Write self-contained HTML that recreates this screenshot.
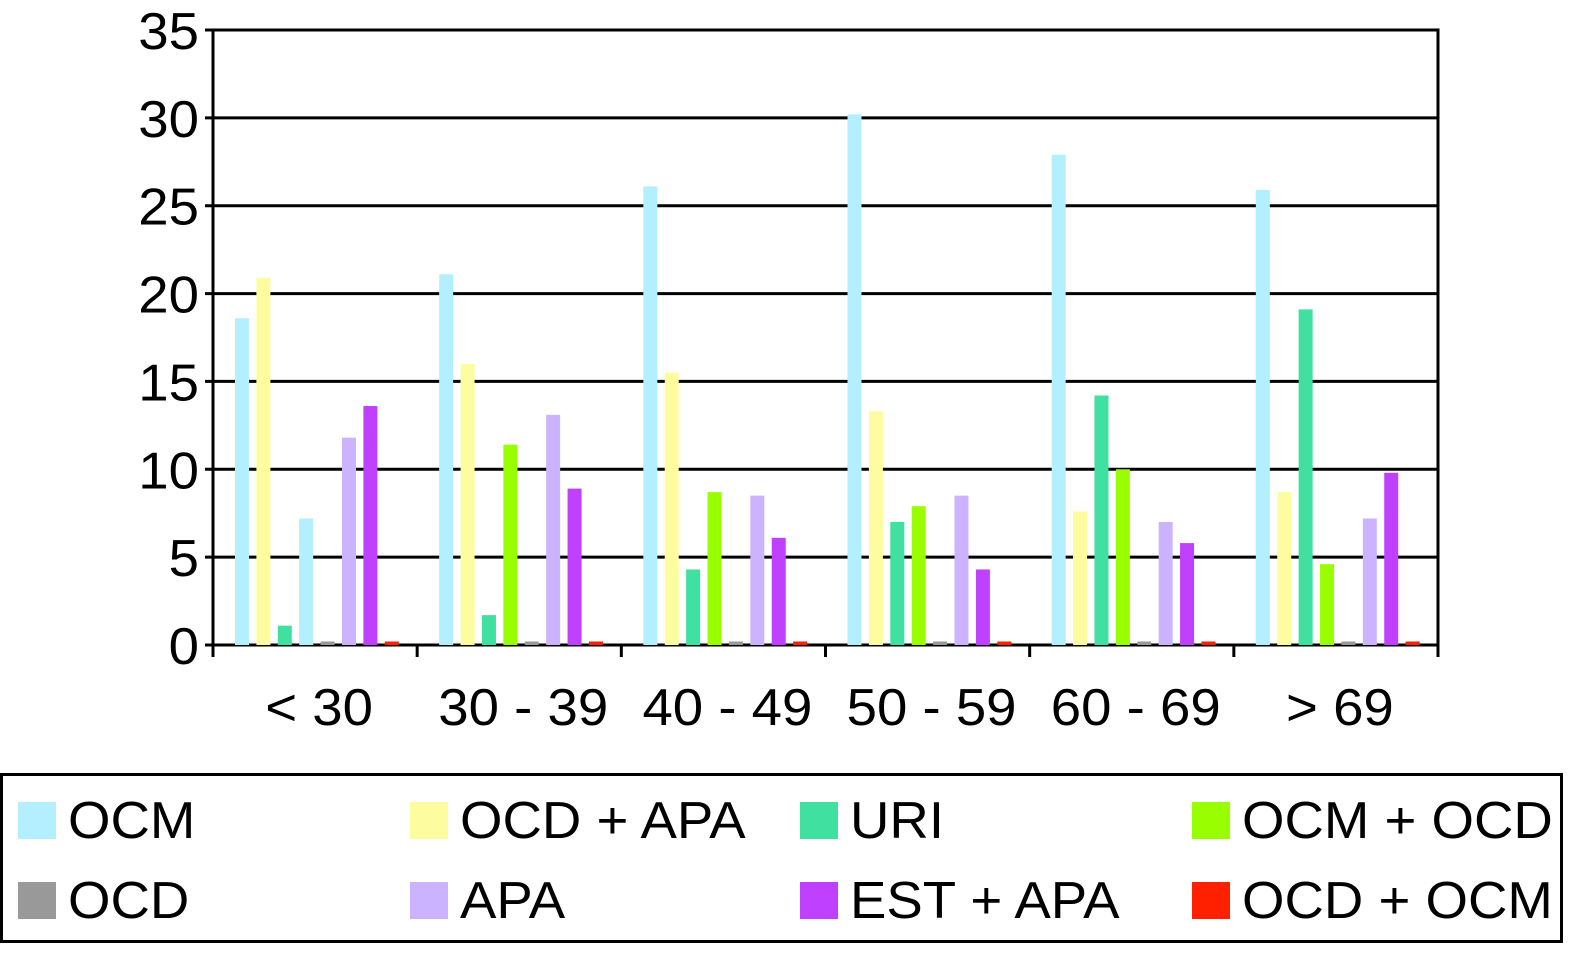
<!DOCTYPE html>
<html><head><meta charset="utf-8"><style>
body{margin:0;background:#fff;width:1590px;height:958px;overflow:hidden;font-family:"Liberation Sans",sans-serif}
svg text{font-family:"Liberation Sans",sans-serif}
</style></head><body>
<svg id="chart" width="1590" height="958"></svg>
<script>
const categories=["< 30","30 - 39","40 - 49","50 - 59","60 - 69","> 69"];
const seriesNames=["OCM","OCD + APA","URI","OCM + OCD","OCD","APA","EST + APA","OCD + OCM"];
const seriesColors=["#b3efff","#fdfda0","#3fe0a0","#99ff00","#999999","#ccb3ff","#c040ff","#ff2000"];
const sOCM=[18.6,21.1,26.1,30.2,27.9,25.9];
const sOCDAPA=[20.9,16.0,15.5,13.3,7.6,8.7];
const sURI=[1.1,1.7,4.3,7.0,14.2,19.1];
const sOCMOCD=[7.2,11.4,8.7,7.9,10.0,4.6];
const sOCD=[0.2,0.2,0.2,0.2,0.2,0.2];
const sAPA=[11.8,13.1,8.5,8.5,7.0,7.2];
const sESTAPA=[13.6,8.9,6.1,4.3,5.8,9.8];
const sOCDOCM=[0.2,0.2,0.2,0.2,0.2,0.2];
const yTicks=[0,5,10,15,20,25,30,35];
const series=[sOCM,sOCDAPA,sURI,sOCMOCD,sOCD,sAPA,sESTAPA,sOCDOCM];
const NS="http://www.w3.org/2000/svg";
const svg=document.getElementById("chart");
const X0=213,X1=1438,Y0=645,Y1=30,YMAX=35;
const gw=(X1-X0)/categories.length;
const y=v=>Y0-(v/YMAX)*(Y0-Y1);
const xb=(g,s)=>X0+g*gw+22+s*21.4;
function mk(t,a,txt){const e=document.createElementNS(NS,t);for(const k in a)e.setAttribute(k,a[k]);if(txt!==undefined)e.textContent=txt;svg.appendChild(e);return e;}
function txt(x,yy,anchor,s){return mk("text",{x:0,y:0,transform:`translate(${x},${yy}) scale(1.05,1)`,"text-anchor":anchor,"font-size":52},s);}
let fr=mk("rect",{x:X0,y:Y1,width:X1-X0,height:Y0-Y1,fill:"none",stroke:"#000","stroke-width":3});


yTicks.forEach(t=>{
 let l=mk("line",{x1:X0-8,x2:X1,y1:y(t),y2:y(t),stroke:"#000","stroke-width":3});
 
 
 let tx=txt(199,y(t)+19,"end",String(t));
 
 
});
series.forEach((arr,s)=>arr.forEach((v,g)=>{
 let col=seriesColors[s];
 if(s===3&&g===0)col=seriesColors[0];
 let r=mk("rect",{x:xb(g,s),y:y(v),width:14,height:Y0-y(v),fill:col});
 
 
}));
for(let g=0;g<=categories.length;g++){
 let l=mk("line",{x1:X0+g*gw,x2:X0+g*gw,y1:Y0,y2:Y0+12,stroke:"#000","stroke-width":3});
 
 
}
categories.forEach((c,g)=>{
 let t=txt(X0+g*gw+gw/2+4,725,"middle",c);
 
 
});
let lb=mk("rect",{x:1.5,y:774.5,width:1560,height:167,fill:"none",stroke:"#000","stroke-width":3});


const cols=[18,410,800,1192];
seriesNames.forEach((n,i)=>{
 const cx=cols[i%4],cy=i<4?802:882;
 let r=mk("rect",{x:cx,y:cy,width:38,height:37,fill:seriesColors[i]});
 
 
 let t=txt(cx+50,cy+36,"start",n);
 
 
});
</script>
</body></html>
